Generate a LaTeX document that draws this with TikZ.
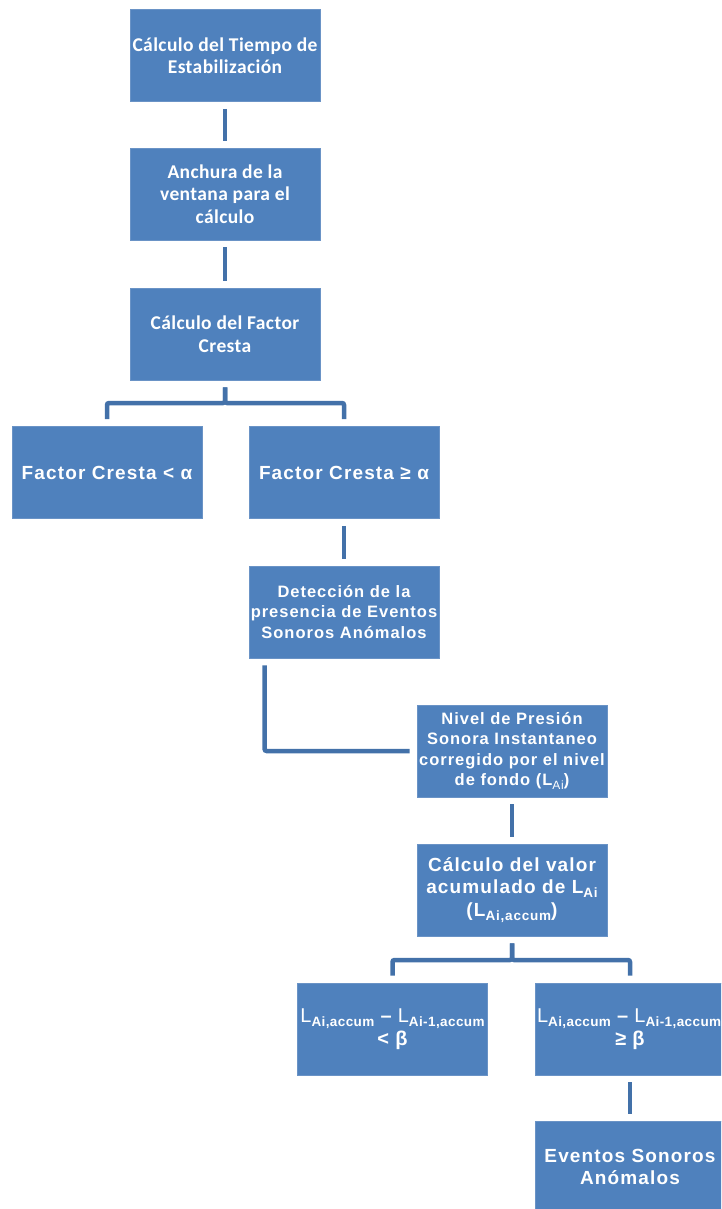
\documentclass[tikz,border=0pt]{standalone}
\usepackage{fontspec}
\setmainfont{Carlito}[LetterSpace=2]
\newfontfamily\ab{Liberation Sans}[LetterSpace=6]
\newfontfamily\abn{Liberation Sans}[LetterSpace=3]
\usetikzlibrary{calc}
\definecolor{boxblue}{HTML}{4F81BD}
\definecolor{boxedge}{HTML}{6A93C6}
\definecolor{connblue}{HTML}{4371A9}
\newcommand{\lsub}[1]{\raisebox{-0.45ex}{\fontsize{12}{12}\selectfont #1}}
\newcommand{\bsub}[1]{\raisebox{-0.4ex}{\fontsize{13.5}{13.5}\selectfont #1}}
\tikzset{
  box/.style={draw=boxedge, fill=boxblue, line width=0.8pt, minimum width=190pt,
    minimum height=92pt, inner sep=1pt, align=center, text=white},
  topbox/.style={box, font=\fontsize{19.5}{22.5}\selectfont\bfseries},
  lowbox/.style={box, font=\ab\fontsize{16.5}{20.5}\selectfont\bfseries},
  bigbox/.style={box, font=\ab\fontsize{19}{22.5}\selectfont\bfseries},
  diffbox/.style={box, font=\abn\fontsize{20}{22.5}\selectfont\bfseries}
}
\tikzset{conn/.style={draw=connblue, line width=4.5pt, shorten <=7pt, shorten >=7pt}}
\begin{document}
\begin{tikzpicture}[x=1pt, y=-1pt]
\useasboundingbox (0,0) rectangle (721,1209);
\clip (0,0) rectangle (721,1209);
\node[topbox] (b1) at (225,55.5) {Cálculo del Tiempo de\\Estabilización};
\node[topbox] (b2) at (225,194) {Anchura de la\\ventana para el\\cálculo};
\node[topbox] (b3) at (225,334) {Cálculo del Factor\\Cresta};
\node[bigbox] (b4) at (107,472.5) {Factor Cresta < α};
\node[bigbox] (b5) at (344,472.5) {Factor Cresta ≥ α};
\node[lowbox] (b6) at (344,612) {Detección de la\\presencia de Eventos\\Sonoros Anómalos};
\node[lowbox] (b7) at (512,751) {Nivel de Presión\\Sonora Instantaneo\\corregido por el nivel\\de fondo (L{\mdseries\lsub{Ai}})};
\node[bigbox] (b8) at (512,890) {Cálculo del valor\\acumulado de L\bsub{Ai}\\(L\bsub{Ai,accum})};
\node[diffbox] (b9) at (392.5,1029) {\makebox[186pt][c]{{\mdseries L}\bsub{Ai,accum} – {\mdseries L}\bsub{Ai-1,accum}}\\< β};
\node[diffbox] (b10) at (630,1029) {\makebox[186pt][l]{{\mdseries L}\bsub{Ai,accum} – {\mdseries L}\bsub{Ai-1,accum}}\\≥ β};
\node[bigbox] (b11) at (630,1167) {Eventos Sonoros\\Anómalos};
\coordinate (j1) at (226,403);
\coordinate (j2) at (512,960);
\draw[conn] (b1) -- (b2);
\draw[conn] (b2) -- (b3);
\draw[conn, rounded corners=2pt] (b3.south) -- (b3.south |- j1) -| (b4.north);
\draw[conn, rounded corners=2pt] (b3.south) -- (b3.south |- j1) -| (b5.north);
\draw[conn] (b5) -- (b6);
\draw[conn, rounded corners=2pt] ($(b6.south west)+(16,0)$) |- (b7.west);
\draw[conn] (b7) -- (b8);
\draw[conn, rounded corners=2pt] (b8.south) -- (b8.south |- j2) -| (b9.north);
\draw[conn, rounded corners=2pt] (b8.south) -- (b8.south |- j2) -| (b10.north);
\draw[conn] (b10) -- (b11);
\end{tikzpicture}
\end{document}
